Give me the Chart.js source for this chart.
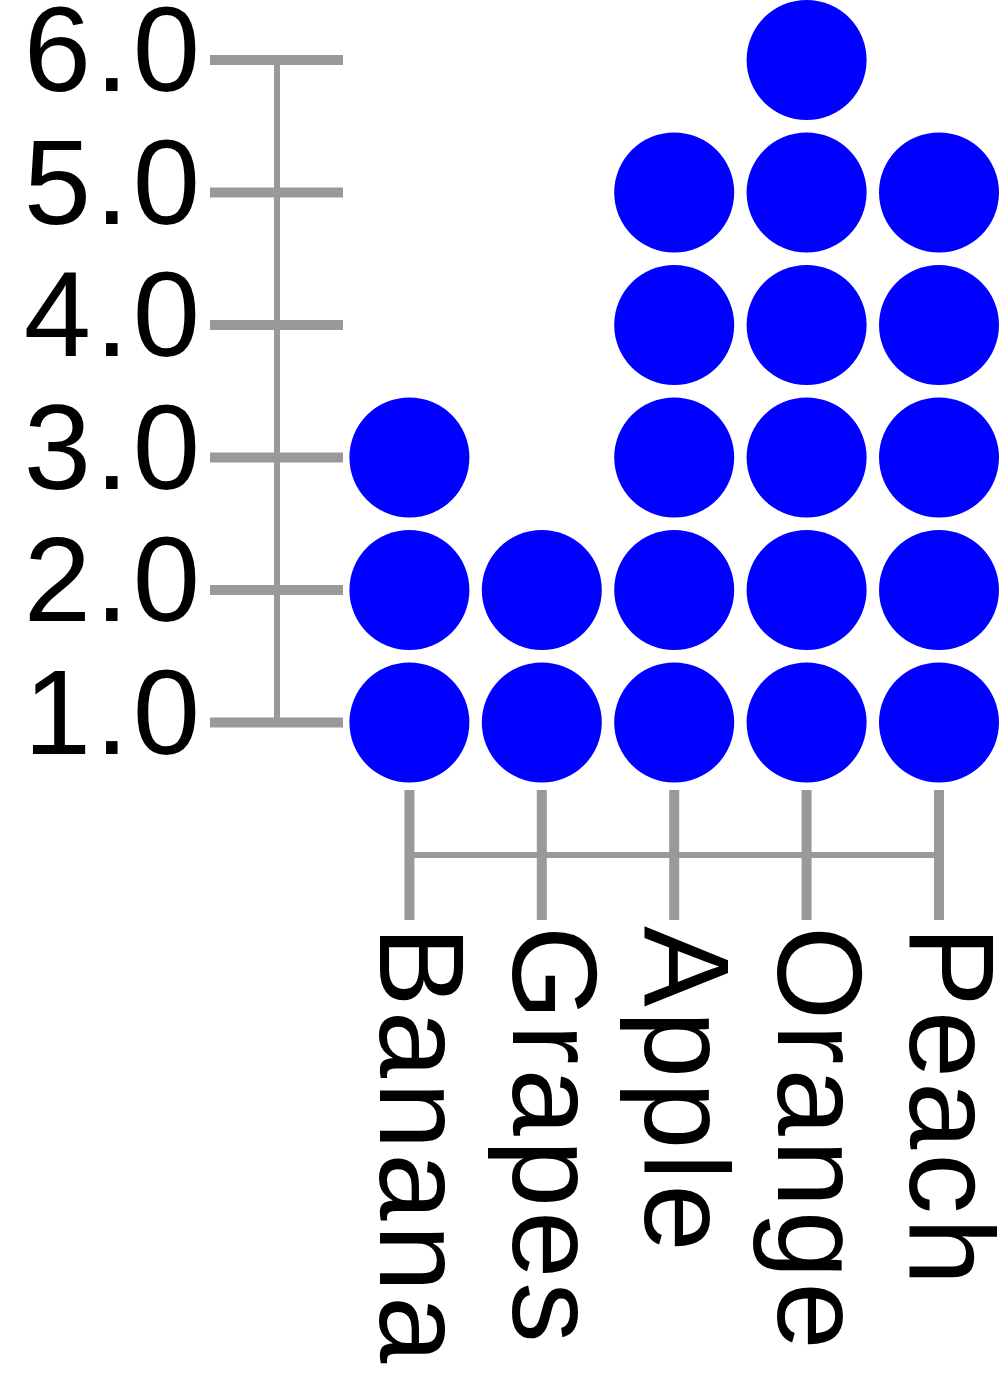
<!DOCTYPE html>
<html>
<head>
<meta charset="utf-8">
<script src="https://cdn.jsdelivr.net/npm/chart.js@4"></script>
<style>
  html, body { margin: 0; padding: 0; background: #ffffff; }
  #wrap { width: 1000px; height: 1397px; position: relative; }
</style>
</head>
<body>
<div id="wrap"><canvas id="c" width="1000" height="1397"></canvas></div>
<script>
// ---- data ----
const categories = ['Banana', 'Grapes', 'Apple', 'Orange', 'Peach'];
const counts = [3, 2, 5, 6, 5];
const yTickValues = [1, 2, 3, 4, 5, 6];
const yTickLabels = ['1.0', '2.0', '3.0', '4.0', '5.0', '6.0'];

// table of dots for the library (one dot per unit of each count)
const dots = [];
categories.forEach((cat, i) => {
  for (let k = 1; k <= counts[i]; k++) dots.push({ x: i, y: k });
});

const AXIS_COLOR = '#999999';
const FONT = '121px "Liberation Sans", Arial, Helvetica, sans-serif';
const LETTER_SPACING = 4;

const axesPlugin = {
  id: 'dotAxes',
  beforeDatasetsDraw(chart) {
    const ctx = chart.ctx;
    const xs = chart.scales.x, ys = chart.scales.y;
    ctx.save();
    ctx.strokeStyle = AXIS_COLOR;
    ctx.lineCap = 'butt';

    // ---- Y axis ----
    const spineX = xs.getPixelForValue(xs.min);
    const yTop = ys.getPixelForValue(yTickValues[yTickValues.length - 1]);
    const yBot = ys.getPixelForValue(yTickValues[0]);
    ctx.lineWidth = 6;
    ctx.beginPath();
    ctx.moveTo(spineX, yTop);
    ctx.lineTo(spineX, yBot);
    ctx.stroke();
    ctx.lineWidth = 10;
    yTickValues.forEach(v => {
      const py = ys.getPixelForValue(v);
      ctx.beginPath();
      ctx.moveTo(spineX - 67, py);
      ctx.lineTo(spineX + 66, py);
      ctx.stroke();
    });
    ctx.fillStyle = '#000000';
    ctx.font = FONT;
    if ('letterSpacing' in ctx) ctx.letterSpacing = LETTER_SPACING + 'px';
    const trail = ('letterSpacing' in ctx) ? LETTER_SPACING : 0;
    ctx.textAlign = 'right';
    ctx.textBaseline = 'alphabetic';
    yTickValues.forEach((v, i) => {
      const py = ys.getPixelForValue(v);
      ctx.fillText(yTickLabels[i], spineX - 77 + trail, py + 31);
    });

    // ---- X axis ----
    const spineY = ys.getPixelForValue(ys.min);
    const xL = xs.getPixelForValue(0);
    const xR = xs.getPixelForValue(categories.length - 1);
    ctx.lineWidth = 6;
    ctx.beginPath();
    ctx.moveTo(xL, spineY);
    ctx.lineTo(xR, spineY);
    ctx.stroke();
    ctx.lineWidth = 10;
    categories.forEach((c, i) => {
      const px = xs.getPixelForValue(i);
      ctx.beginPath();
      ctx.moveTo(px, spineY - 65);
      ctx.lineTo(px, spineY + 65);
      ctx.stroke();
    });
    ctx.textAlign = 'left';
    categories.forEach((c, i) => {
      const px = xs.getPixelForValue(i);
      ctx.save();
      ctx.translate(px, spineY + 71);
      ctx.rotate(Math.PI / 2);
      ctx.fillText(c, 0, 29);
      ctx.restore();
    });
    ctx.restore();
  }
};

new Chart(document.getElementById('c'), {
  type: 'scatter',
  data: {
    datasets: [{
      data: dots,
      pointRadius: 60,
      pointHoverRadius: 60,
      pointBackgroundColor: '#0000ff',
      pointBorderWidth: 0,
      borderWidth: 0,
      showLine: false,
      clip: false
    }]
  },
  options: {
    responsive: false,
    animation: false,
    devicePixelRatio: 1,
    layout: {
      autoPadding: false,
      padding: { left: 277, right: 61, top: 60, bottom: 542 }
    },
    scales: {
      x: { type: 'linear', min: -1, max: categories.length - 1, display: false },
      y: { type: 'linear', min: 0, max: 6, display: false }
    },
    plugins: {
      legend: { display: false },
      tooltip: { enabled: false }
    },
    events: []
  },
  plugins: [axesPlugin]
});
</script>
</body>
</html>
